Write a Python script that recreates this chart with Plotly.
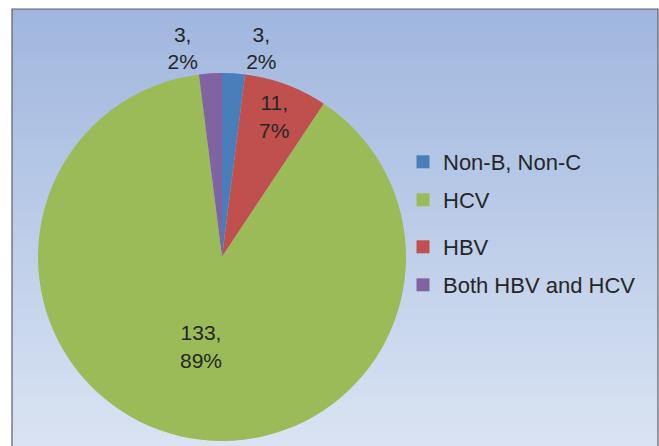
import plotly.graph_objects as go

# Data (slice order clockwise from 12 o'clock)
labels = ["Non-B, Non-C", "HBV", "HCV", "Both HBV and HCV"]
values = [3, 11, 133, 3]
colors = ["#4A7EBB", "#C0504D", "#9BBB59", "#8064A2"]
text_pos = ["outside", "inside", "inside", "outside"]

# Legend order as in the reference
legend_labels = ["Non-B, Non-C", "HCV", "HBV", "Both HBV and HCV"]
legend_colors = ["#4A7EBB", "#9BBB59", "#C0504D", "#8064A2"]

W, H = 659, 446
FONT = "Liberation Sans, Arial, sans-serif"
TXT = "#262626"

fig = go.Figure()

fig.add_trace(go.Pie(
    labels=labels, values=values, sort=False, direction="clockwise", rotation=0,
    marker=dict(colors=colors, line=dict(width=0)),
    texttemplate="%{value},<br>%{percent:.0%}",
    textposition=text_pos,
    insidetextorientation="horizontal",
    textfont=dict(family=FONT, size=21, color=TXT),
    domain=dict(x=[38 / W, 406 / W], y=[5 / H, 373 / H]),
    showlegend=False, hoverinfo="label+value+percent",
))

# Legend entries (separate legends so spacing can match the reference)
legend_y = [162, 200, 247, 285]
for i, (lab, col) in enumerate(zip(legend_labels, legend_colors)):
    lname = "legend" if i == 0 else f"legend{i+1}"
    fig.add_trace(go.Scatter(
        x=[None], y=[None], mode="markers", name=lab,
        marker=dict(symbol="square", size=13, color=col),
        legend=lname, showlegend=True,
    ))

# Background gradient inside frame
x0f, x1f = 12 / W, 658 / W
ytop = 1 - 9 / H
N = 60
top = (160, 182, 222)
bot = (217, 227, 243)
shapes = []
for k in range(N):
    t = (k + 0.5) / N
    c = tuple(round(top[j] + (bot[j] - top[j]) * t) for j in range(3))
    ya = ytop - ytop * k / N
    yb = ytop - ytop * (k + 1) / N
    shapes.append(dict(type="rect", xref="paper", yref="paper", x0=x0f, x1=x1f,
                       y0=yb - 0.002, y1=ya, fillcolor="rgb(%d,%d,%d)" % c,
                       line=dict(width=0), layer="below"))
shapes.append(dict(type="rect", xref="paper", yref="paper", x0=x0f, x1=x1f,
                   y0=-0.01, y1=ytop, fillcolor="rgba(0,0,0,0)",
                   line=dict(color="#5A5E6E", width=1.2), layer="above"))

layout_legends = {}
for i, yy in enumerate(legend_y):
    lname = "legend" if i == 0 else f"legend{i+1}"
    layout_legends[lname] = dict(
        x=403 / W, y=1 - yy / H, xanchor="left", yanchor="middle",
        bgcolor="rgba(0,0,0,0)", borderwidth=0,
        font=dict(family=FONT, size=22, color=TXT),
        itemclick=False, itemdoubleclick=False,
    )

fig.update_layout(
    width=W, height=H, margin=dict(l=0, r=0, t=0, b=0),
    paper_bgcolor="white", plot_bgcolor="rgba(0,0,0,0)",
    xaxis=dict(visible=False, domain=[0.99, 1]), yaxis=dict(visible=False, domain=[0.99, 1]),
    shapes=shapes,
    font=dict(family=FONT, color=TXT),
    **layout_legends,
)

fig.write_html("out.html", config={"displayModeBar": False},
               post_script="document.body.style.margin='0';document.body.style.overflow='hidden';")
